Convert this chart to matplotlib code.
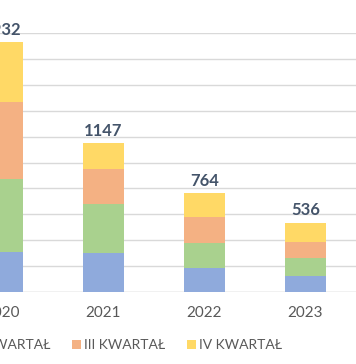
import matplotlib.pyplot as plt
import numpy as np

# Dane: liczba zdarzen w kwartalach
lata = ["2020", "2021", "2022", "2023"]
kwartal_1 = [308, 302, 185, 124]
kwartal_2 = [563, 380, 193, 140]
kwartal_3 = [596, 271, 200, 124]
kwartal_4 = [465, 194, 186, 148]
sumy = [1932, 1147, 764, 536]
nazwy = ["I KWARTAŁ", "II KWARTAŁ", "III KWARTAŁ", "IV KWARTAŁ"]
kolory = ["#8FAADC", "#A9D18E", "#F4B183", "#FFD966"]

plt.rcParams["font.family"] = ["Lato", "DejaVu Sans"]

fig = plt.figure(figsize=(3.56, 3.64), dpi=100)
ax = fig.add_axes([-48 / 356, 72 / 364, 404 / 356, 259 / 364])

x = np.arange(len(lata))
dol = np.zeros(len(lata))
for wartosci, nazwa, kolor in zip([kwartal_1, kwartal_2, kwartal_3, kwartal_4], nazwy, kolory):
    ax.bar(x, wartosci, width=0.4, bottom=dol, color=kolor, label=nazwa, zorder=2)
    dol += np.array(wartosci)

for xi, s in zip(x, sumy):
    ax.annotate(str(s), (xi, s), xytext=(0, 3), textcoords="offset points",
                ha="center", va="bottom", fontsize=12, fontweight="bold", color="#44546A")

ax.set_xlim(-0.5, 3.5)
ax.set_ylim(0, 2000)
ax.set_yticks(range(0, 2001, 200))
ax.yaxis.grid(True, color="#D9D9D9", linewidth=1, zorder=0)
ax.tick_params(axis="y", left=False, labelleft=False)
ax.tick_params(axis="x", length=0, labelsize=11, labelcolor="#595959", pad=10)
ax.set_xticks(x)
ax.set_xticklabels(lata)
for s in ["top", "right", "left", "bottom"]:
    ax.spines[s].set_visible(False)

# os pozioma
ax.axhline(0, color="#D9D9D9", linewidth=1, zorder=1)

# legenda pod wykresem, czesciowo ucieta z lewej
fig.legend(loc="center", bbox_to_anchor=(0.19, 19 / 364), ncol=4,
           frameon=False, fontsize=10, handlelength=0.6, handleheight=0.6,
           handletextpad=0.25, columnspacing=1.6, labelcolor="#595959")

fig.savefig("out.png", dpi=100)
